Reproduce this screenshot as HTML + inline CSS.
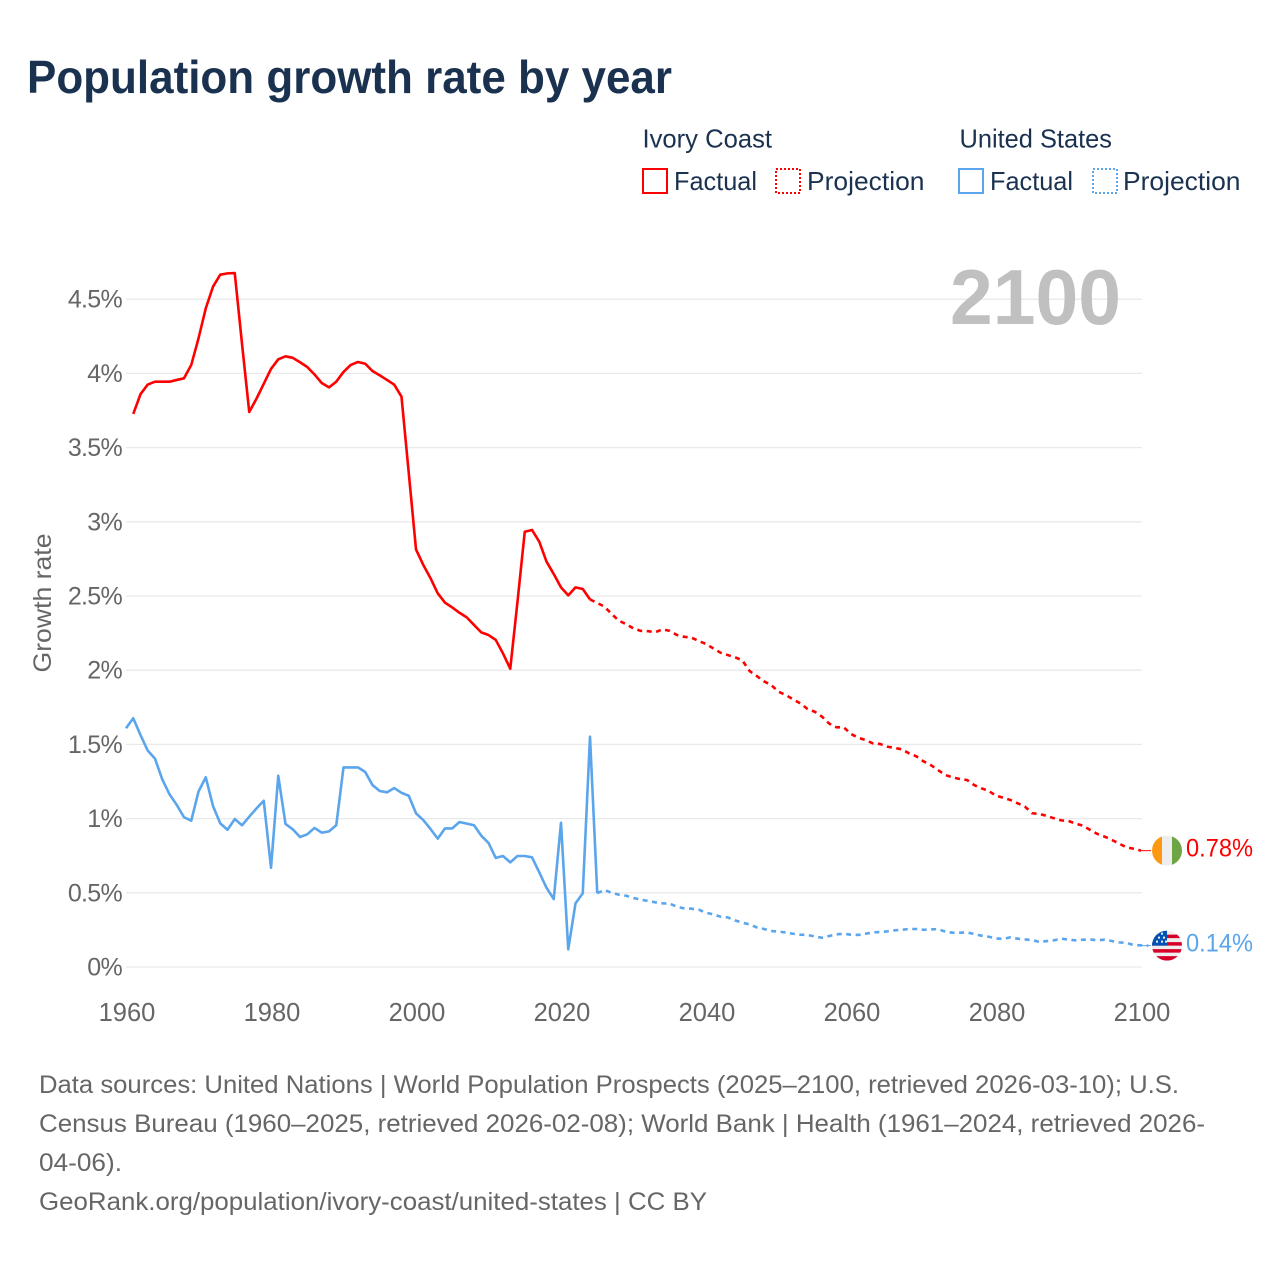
<!DOCTYPE html>
<html lang="en">
<head>
<meta charset="utf-8">
<title>Population growth rate by year</title>
<style>
  html, body { margin: 0; padding: 0; background: #fff; }
  svg { display: block; font-family: "Liberation Sans", sans-serif; }
</style>
</head>
<body>
<svg id="chart" xmlns="http://www.w3.org/2000/svg" width="1280" height="1280" viewBox="0 0 1280 1280">
  <rect x="0" y="0" width="1280" height="1280" fill="#fff"/>
  <text x="27" y="93" font-size="46" font-weight="700" fill="#1a3250" textLength="645" lengthAdjust="spacingAndGlyphs">Population growth rate by year</text>

  <g font-size="26" fill="#1a3250">
    <text x="642.5" y="147.5" textLength="129.5" lengthAdjust="spacingAndGlyphs">Ivory Coast</text>
    <text x="959.5" y="147.5" textLength="152.5" lengthAdjust="spacingAndGlyphs">United States</text>
    <rect x="643" y="169" width="24" height="24" fill="none" stroke="#ff0000" stroke-width="2"/>
    <text x="674" y="190" textLength="83" lengthAdjust="spacingAndGlyphs">Factual</text>
    <rect x="776" y="169" width="24" height="24" fill="none" stroke="#ff0000" stroke-width="2" stroke-dasharray="2 2"/>
    <text x="807" y="190" textLength="117.5" lengthAdjust="spacingAndGlyphs">Projection</text>
    <rect x="959" y="169" width="24" height="24" fill="none" stroke="#5ba5ec" stroke-width="2"/>
    <text x="990" y="190" textLength="83" lengthAdjust="spacingAndGlyphs">Factual</text>
    <rect x="1093" y="169" width="24" height="24" fill="none" stroke="#5ba5ec" stroke-width="2" stroke-dasharray="2 2"/>
    <text x="1123" y="190" textLength="117.5" lengthAdjust="spacingAndGlyphs">Projection</text>
  </g>

  <g id="grid"></g>
  <text x="950" y="324" font-size="78" font-weight="700" fill="#c0c0c0" textLength="171" lengthAdjust="spacingAndGlyphs">2100</text>
  <g id="y-ticks"></g>
  <g id="x-ticks"></g>
  <text transform="translate(51,603) rotate(-90)" font-size="25" fill="#666" text-anchor="middle" textLength="139" lengthAdjust="spacingAndGlyphs">Growth rate</text>
  <g id="series"></g>

  <defs>
    <clipPath id="flag-clip"><circle cx="0" cy="0" r="15"/></clipPath>
  </defs>
  <g id="flag-ivory">
    <g clip-path="url(#flag-clip)">
      <rect x="-15" y="-15" width="30" height="30" fill="#eeeeee"/>
      <rect x="-15" y="-15" width="10" height="30" fill="#ff9811"/>
      <rect x="5" y="-15" width="10" height="30" fill="#6da544"/>
    </g>
  </g>
  <g id="flag-us">
    <g clip-path="url(#flag-clip)">
      <rect x="-15" y="-15" width="30" height="30" fill="#eeeeee"/>
      <rect x="-15" y="-11" width="30" height="3.5" fill="#d80027"/>
      <rect x="-15" y="-3.5" width="30" height="3.5" fill="#d80027"/>
      <rect x="-15" y="3.5" width="30" height="3.5" fill="#d80027"/>
      <rect x="-15" y="10.5" width="30" height="4.5" fill="#d80027"/>
      <rect x="-15" y="-15" width="15" height="15" fill="#0052b4"/>
      <path d="M-9 -9h2v2h-2zM-4 -9h2v2h-2zM-6 -13h2v2h-2zM-11 -5h2v2h-2zM-6 -5h2v2h-2zM-2 -5h2v2h-2z" fill="#eeeeee"/>
    </g>
  </g>
  <text id="end-label-ivory" x="1186" font-size="25" fill="#ff0000" textLength="67" lengthAdjust="spacingAndGlyphs"></text>
  <text id="end-label-us" x="1186" font-size="25" fill="#5ba5ec" textLength="67" lengthAdjust="spacingAndGlyphs"></text>

  <g font-size="25" fill="#666">
    <text x="39" y="1093" textLength="1140" lengthAdjust="spacingAndGlyphs">Data sources: United Nations | World Population Prospects (2025–2100, retrieved 2026-03-10); U.S.</text>
    <text x="39" y="1132" textLength="1166" lengthAdjust="spacingAndGlyphs">Census Bureau (1960–2025, retrieved 2026-02-08); World Bank | Health (1961–2024, retrieved 2026-</text>
    <text x="39" y="1171" textLength="83" lengthAdjust="spacingAndGlyphs">04-06).</text>
    <text x="39" y="1210" textLength="668" lengthAdjust="spacingAndGlyphs">GeoRank.org/population/ivory-coast/united-states | CC BY</text>
  </g>
</svg>

<script>
const xTickYears = [1960, 1980, 2000, 2020, 2040, 2060, 2080, 2100];
const yTickValues = [0, 0.5, 1, 1.5, 2, 2.5, 3, 3.5, 4, 4.5];

const ivoryFactualStartYear = 1961;
const ivoryFactualValues = [
  3.727, 3.86, 3.925, 3.944, 3.944, 3.944, 3.956, 3.967, 4.057, 4.236,
  4.438, 4.584, 4.665, 4.674, 4.676, 4.20, 3.74, 3.83, 3.93, 4.03,
  4.095, 4.115, 4.105, 4.075, 4.043, 3.993, 3.935, 3.906, 3.944, 4.01,
  4.057, 4.077, 4.065, 4.016, 3.987, 3.956, 3.924, 3.843, 3.33, 2.814,
  2.71, 2.62, 2.518, 2.455, 2.423, 2.387, 2.356, 2.305, 2.255, 2.237,
  2.204, 2.113, 2.01, 2.462, 2.933, 2.945, 2.866, 2.732, 2.648, 2.558,
  2.504, 2.558, 2.547, 2.477
];

const ivoryProjectionStartYear = 2024;
const ivoryProjectionValues = [
  2.477, 2.453, 2.428, 2.378, 2.333, 2.31, 2.281, 2.265, 2.263, 2.256,
  2.275, 2.265, 2.237, 2.225, 2.219, 2.197, 2.177, 2.147, 2.118, 2.102,
  2.087, 2.067, 1.995, 1.961, 1.925, 1.90, 1.855, 1.833, 1.804, 1.777,
  1.739, 1.72, 1.687, 1.64, 1.615, 1.615, 1.57, 1.545, 1.53, 1.507,
  1.503, 1.485, 1.476, 1.467, 1.44, 1.42, 1.386, 1.361, 1.327, 1.294,
  1.278, 1.267, 1.26, 1.226, 1.204, 1.186, 1.154, 1.141, 1.125, 1.103,
  1.08, 1.036, 1.031, 1.018, 1.002, 0.988, 0.984, 0.966, 0.952, 0.923,
  0.896, 0.878, 0.856, 0.831, 0.806, 0.797, 0.784
];

const usFactualStartYear = 1960;
const usFactualValues = [
  1.609, 1.676, 1.563, 1.458, 1.404, 1.265, 1.164, 1.092, 1.009, 0.986,
  1.182, 1.278, 1.085, 0.968, 0.925, 0.997, 0.955, 1.013, 1.069, 1.12,
  0.669, 1.289, 0.964, 0.928, 0.876, 0.894, 0.937, 0.905, 0.914, 0.955,
  1.345, 1.345, 1.345, 1.314, 1.226, 1.186, 1.177, 1.206, 1.174, 1.154,
  1.036, 0.99, 0.93, 0.865, 0.934, 0.934, 0.977, 0.966, 0.955, 0.885,
  0.836, 0.735, 0.748, 0.705, 0.748, 0.748, 0.739, 0.638, 0.534, 0.458,
  0.972, 0.119, 0.429, 0.497, 1.552, 0.497
];

const usProjectionStartYear = 2025;
const usProjectionValues = [
  0.497, 0.519, 0.50, 0.487, 0.48, 0.465, 0.454, 0.445, 0.436, 0.429,
  0.427, 0.406, 0.395, 0.393, 0.386, 0.366, 0.355, 0.339, 0.334, 0.314,
  0.299, 0.287, 0.267, 0.256, 0.243, 0.238, 0.233, 0.224, 0.218, 0.216,
  0.206, 0.197, 0.209, 0.22, 0.224, 0.218, 0.216, 0.224, 0.233, 0.236,
  0.24, 0.247, 0.251, 0.256, 0.256, 0.251, 0.253, 0.256, 0.238, 0.231,
  0.231, 0.233, 0.222, 0.211, 0.204, 0.193, 0.189, 0.2, 0.191, 0.186,
  0.182, 0.168, 0.175, 0.18, 0.191, 0.184, 0.18, 0.184, 0.186, 0.18,
  0.184, 0.175, 0.166, 0.162, 0.148, 0.146, 0.144
];

const SVG_NS = 'http://www.w3.org/2000/svg';
const RED = '#ff0000';
const BLUE = '#5ba5ec';

function xScale(year) { return 126 + (year - 1960) * 7.25; }
function yScale(value) { return 967 - value * 148.4; }

function linePath(startYear, values) {
  return values.map(function (v, i) {
    return (i ? 'L' : 'M') + xScale(startYear + i).toFixed(2) + ' ' + yScale(v).toFixed(2);
  }).join('');
}

const gridGroup = document.getElementById('grid');
const yTickGroup = document.getElementById('y-ticks');
const xTickGroup = document.getElementById('x-ticks');
const seriesGroup = document.getElementById('series');

yTickValues.forEach(function (v) {
  const line = document.createElementNS(SVG_NS, 'line');
  
  
  line.setAttribute('x1', 126);
  line.setAttribute('x2', 1142);
  line.setAttribute('y1', yScale(v));
  line.setAttribute('y2', yScale(v));
  line.setAttribute('stroke', '#e9e9e9');
  line.setAttribute('stroke-width', '1.3');
  gridGroup.appendChild(line);

  const label = document.createElementNS(SVG_NS, 'text');
  
  
  label.setAttribute('x', 122);
  label.setAttribute('y', yScale(v) + 8.5);
  label.setAttribute('text-anchor', 'end');
  label.setAttribute('font-size', '25');
  label.setAttribute('letter-spacing', '-0.7');
  label.setAttribute('fill', '#666');
  label.textContent = v + '%';
  yTickGroup.appendChild(label);
});

xTickYears.forEach(function (year) {
  const label = document.createElementNS(SVG_NS, 'text');
  
  
  label.setAttribute('x', xScale(year) + 1);
  label.setAttribute('y', 1021);
  label.setAttribute('text-anchor', 'middle');
  label.setAttribute('font-size', '25.5');
  label.setAttribute('fill', '#666');
  label.textContent = String(year);
  xTickGroup.appendChild(label);
});

function addLine(name, startYear, values, color, dashed) {
  const path = document.createElementNS(SVG_NS, 'path');
  
  
  path.setAttribute('d', linePath(startYear, values));
  path.setAttribute('fill', 'none');
  path.setAttribute('stroke', color);
  path.setAttribute('stroke-width', '2.6');
  path.setAttribute('stroke-linejoin', 'round');
  if (dashed) path.setAttribute('stroke-dasharray', '5 4.5');
  seriesGroup.appendChild(path);
}

addLine('line-ivory-coast-projection', ivoryProjectionStartYear, ivoryProjectionValues, RED, true);
addLine('line-united-states-projection', usProjectionStartYear, usProjectionValues, BLUE, true);
addLine('line-ivory-coast-factual', ivoryFactualStartYear, ivoryFactualValues, RED, false);
addLine('line-united-states-factual', usFactualStartYear, usFactualValues, BLUE, false);

function addEndMarker(name, flagId, labelId, values, color) {
  const last = values[values.length - 1];
  const yPos = yScale(last);
  const connector = document.createElementNS(SVG_NS, 'line');
  
  
  connector.setAttribute('x1', xScale(2100));
  connector.setAttribute('x2', xScale(2100) + 10);
  connector.setAttribute('y1', yPos);
  connector.setAttribute('y2', yPos);
  connector.setAttribute('stroke', color);
  connector.setAttribute('stroke-width', '1');
  seriesGroup.appendChild(connector);
  document.getElementById(flagId).setAttribute('transform', 'translate(1167,' + yPos.toFixed(2) + ')');
  const label = document.getElementById(labelId);
  label.setAttribute('y', (yPos + 6).toFixed(2));
  label.textContent = last.toFixed(2) + '%';
}

addEndMarker('connector-ivory-coast', 'flag-ivory', 'end-label-ivory', ivoryProjectionValues, RED);
addEndMarker('connector-united-states', 'flag-us', 'end-label-us', usProjectionValues, BLUE);
</script>
</body>
</html>
